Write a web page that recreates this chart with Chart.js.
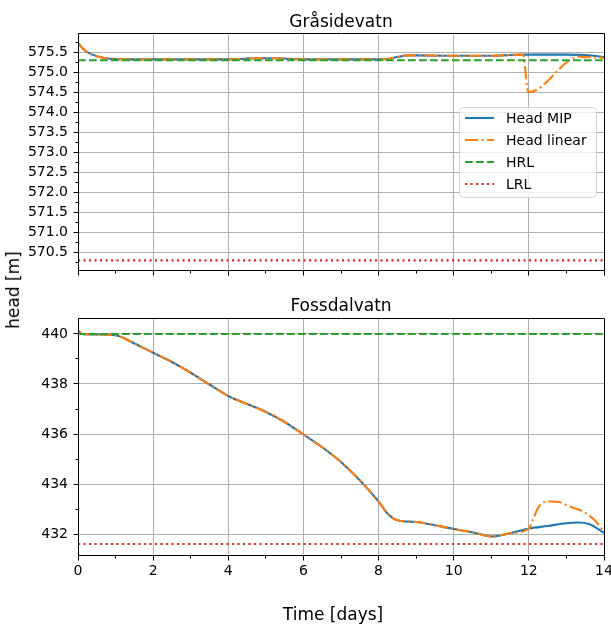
<!DOCTYPE html>
<html>
<head>
<meta charset="utf-8">
<script src="https://cdn.jsdelivr.net/npm/chart.js@4.4.1/dist/chart.umd.min.js"></script>
<style>
html,body{margin:0;padding:0;background:#fff;}
body{width:611px;height:624px;position:relative;overflow:hidden;font-family:'DejaVu Sans',sans-serif;color:#000;}
canvas{position:absolute;left:0;}
.t{position:absolute;white-space:nowrap;font-size:17px;line-height:20px;height:20px;}
</style>
</head>
<body>
<canvas id="c1" width="611" height="290" style="top:0px"></canvas>
<canvas id="c2" width="611" height="334" style="top:290px"></canvas>
<div class="t" id="t1" style="left:341px;top:11px;transform:translateX(-50%);">Gråsidevatn</div>
<div class="t" id="t2" style="left:341px;top:295px;transform:translateX(-50%);">Fossdalvatn</div>
<div class="t" id="xl" style="left:333px;top:604px;transform:translateX(-50%);">Time [days]</div>
<div class="t" id="yl" style="left:13px;top:290px;transform:translate(-50%,-50%) rotate(-90deg);">head [m]</div>
<script>
// ---------------- DATA ----------------
const seriesNames = ['Head MIP', 'Head linear', 'HRL', 'LRL'];

// Gråsidevatn
const topMipDays = [0, 0.1, 0.25, 0.5, 0.75, 1.0, 1.5, 2, 3, 4, 4.5, 4.75, 5.25, 5.75, 6, 7, 8, 8.25, 8.5, 8.75, 9, 10, 11, 11.5, 12, 13, 13.5, 14];
const topMipHead = [575.73, 575.62, 575.5, 575.4, 575.35, 575.33, 575.32, 575.32, 575.32, 575.32, 575.34, 575.35, 575.35, 575.33, 575.32, 575.32, 575.32, 575.33, 575.38, 575.42, 575.42, 575.41, 575.41, 575.43, 575.44, 575.44, 575.43, 575.38];
const topLinDays = [0, 0.1, 0.25, 0.5, 0.75, 1.0, 1.5, 2, 3, 4, 4.5, 4.75, 5.25, 5.75, 6, 7, 8, 8.25, 8.5, 8.75, 9, 10, 11, 11.5, 11.84, 11.99, 13.35, 13.5, 14];
const topLinHead = [575.73, 575.62, 575.5, 575.4, 575.35, 575.33, 575.32, 575.32, 575.32, 575.32, 575.34, 575.35, 575.35, 575.33, 575.32, 575.32, 575.32, 575.33, 575.38, 575.42, 575.42, 575.41, 575.41, 575.43, 575.44, 574.5, 575.39, 575.38, 575.36];
const topHRL = 575.3;
const topLRL = 570.3;

// Fossdalvatn
const botMipDays = [0, 0.1, 0.5, 1.0, 1.5, 2.0, 2.5, 3.0, 3.5, 4.0, 4.5, 5.0, 5.5, 6.0, 6.5, 7.0, 7.5, 8.0, 8.25, 8.5, 9.0, 9.5, 10.0, 10.5, 11.0, 11.5, 12.0, 12.5, 13.0, 13.3, 13.6, 14.0];
const botMipHead = [440.15, 440.0, 439.98, 439.95, 439.62, 439.25, 438.88, 438.45, 437.98, 437.52, 437.2, 436.88, 436.48, 435.98, 435.47, 434.88, 434.15, 433.3, 432.8, 432.55, 432.48, 432.35, 432.2, 432.07, 431.9, 432.03, 432.22, 432.32, 432.43, 432.46, 432.4, 432.05];
const botLinDays = [0, 0.1, 0.5, 1.0, 1.5, 2.0, 2.5, 3.0, 3.5, 4.0, 4.5, 5.0, 5.5, 6.0, 6.5, 7.0, 7.5, 8.0, 8.25, 8.5, 9.0, 9.5, 10.0, 10.5, 11.0, 11.5, 12.0, 12.1, 12.25, 12.4, 12.6, 12.8, 13.0, 13.5, 13.75, 14.0];
const botLinHead = [440.15, 440.0, 439.98, 439.95, 439.62, 439.25, 438.88, 438.45, 437.98, 437.52, 437.2, 436.88, 436.48, 435.98, 435.47, 434.88, 434.15, 433.3, 432.8, 432.55, 432.48, 432.35, 432.2, 432.07, 431.9, 432.03, 432.22, 432.55, 433.05, 433.27, 433.3, 433.28, 433.15, 432.85, 432.55, 432.1];
const botHRL = 440;
const botLRL = 431.6;

// Ticks
const xMajorTicks = [0, 2, 4, 6, 8, 10, 12, 14];
const xMinorTicks = [1, 3, 5, 7, 9, 11, 13];
const topYMajorTicks = [570.5, 571.0, 571.5, 572.0, 572.5, 573.0, 573.5, 574.0, 574.5, 575.0, 575.5];
const topYMinorTicks = [570.25, 570.75, 571.25, 571.75, 572.25, 572.75, 573.25, 573.75, 574.25, 574.75, 575.25, 575.75];
const botYMajorTicks = [432, 434, 436, 438, 440];
const botYMinorTicks = [433, 435, 437, 439];

// ---------------- CHART ----------------
Chart.defaults.font.family = "'DejaVu Sans', sans-serif";
Chart.defaults.font.size = 14;
Chart.defaults.color = '#000';

const zip = (xs, ys) => xs.map((x, i) => ({x: x, y: ys[i]}));
const flat = (v) => [{x: 0, y: v}, {x: 14, y: v}];
const align = (p) => Math.round(p - 0.5) + 0.5;

const decor = {
  id: 'decor',
  afterDatasetsDraw(chart, args, opts) {
    const {ctx, chartArea: a, scales} = chart;
    ctx.save();
    ctx.strokeStyle = '#000';
    ctx.lineWidth = 1;
    const l = align(a.left), r = align(a.right), t = align(a.top), b = align(a.bottom);
    ctx.beginPath();
    ctx.moveTo(l, t); ctx.lineTo(r, t); ctx.lineTo(r, b); ctx.lineTo(l, b); ctx.closePath();
    ctx.stroke();
    ctx.beginPath();
    const xt = (vals, len) => vals.forEach(v => {
      const p = align(scales.x.getPixelForValue(v));
      ctx.moveTo(p, b); ctx.lineTo(p, b + len);
    });
    const yt = (vals, len) => vals.forEach(v => {
      const p = align(scales.y.getPixelForValue(v));
      ctx.moveTo(l, p); ctx.lineTo(l - len, p);
    });
    xt(xMajorTicks, 5); xt(xMinorTicks, 3);
    yt(opts.yMajor, 5); yt(opts.yMinor, 3);
    ctx.stroke();
    ctx.restore();
  },
  afterDraw(chart, args, opts) {
    if (!opts.legend) return;
    const ctx = chart.ctx;
    const bx = 459.5, by = 107.5, bw = 137, bh = 90, rad = 4;
    ctx.save();
    ctx.beginPath();
    ctx.moveTo(bx + rad, by);
    ctx.arcTo(bx + bw, by, bx + bw, by + bh, rad);
    ctx.arcTo(bx + bw, by + bh, bx, by + bh, rad);
    ctx.arcTo(bx, by + bh, bx, by, rad);
    ctx.arcTo(bx, by, bx + bw, by, rad);
    ctx.closePath();
    ctx.fillStyle = 'rgba(255,255,255,0.8)';
    ctx.fill();
    ctx.strokeStyle = 'rgba(204,204,204,0.8)';
    ctx.lineWidth = 1;
    ctx.stroke();
    chart.data.datasets.forEach((ds, i) => {
      const y = 118 + i * 22;
      ctx.beginPath();
      ctx.setLineDash(ds.borderDash || []);
      ctx.strokeStyle = ds.borderColor;
      ctx.lineWidth = ds.borderWidth;
      ctx.moveTo(465, y); ctx.lineTo(494, y);
      ctx.stroke();
      ctx.setLineDash([]);
      ctx.fillStyle = '#000';
      ctx.font = "14px 'DejaVu Sans', sans-serif";
      ctx.textBaseline = 'middle';
      ctx.textAlign = 'left';
      ctx.fillText(ds.label, 506, y + 1);
    });
    ctx.restore();
  }
};

function makeChart(id, c) {
  return new Chart(document.getElementById(id), {
    type: 'line',
    data: {
      datasets: [
        {label: seriesNames[0], data: zip(c.mipDays, c.mipHead), borderColor: '#1f77b4', borderWidth: 2.1, pointRadius: 0, cubicInterpolationMode: 'monotone', order: 4},
        {label: seriesNames[1], data: zip(c.linDays, c.linHead), borderColor: '#ff7f0e', borderWidth: 2.1, borderDash: [13.3, 3.3, 2.1, 3.3], pointRadius: 0, cubicInterpolationMode: 'monotone', order: 3},
        {label: seriesNames[2], data: flat(c.hrl), borderColor: '#2ca02c', borderWidth: 2.1, borderDash: [7.7, 3.3], pointRadius: 0, order: 2},
        {label: seriesNames[3], data: flat(c.lrl), borderColor: '#d62728', borderWidth: 2.1, borderDash: [2.1, 3.4], pointRadius: 0, order: 1}
      ]
    },
    options: {
      responsive: false,
      animation: false,
      devicePixelRatio: 1,
      events: [],
      layout: {padding: {left: 0, right: 7, top: c.padTop, bottom: 0}},
      plugins: {
        legend: {display: false},
        tooltip: {enabled: false},
        title: {display: false},
        decor: {yMajor: c.yMajor, yMinor: c.yMinor, legend: c.legend}
      },
      scales: {
        x: {
          type: 'linear', min: 0, max: 14,
          afterBuildTicks: s => { s.ticks = xMajorTicks.map(v => ({value: v})); },
          afterFit: s => { s.height = c.xH; s.paddingLeft = 0; s.paddingRight = 0; },
          grid: {color: '#b0b0b0', lineWidth: 1, drawTicks: true, tickLength: 5, tickColor: 'rgba(0,0,0,0)'},
          border: {display: false},
          ticks: {display: c.showX, padding: 3, color: '#000', font: {size: 14}, maxRotation: 0, autoSkip: false, callback: v => String(v)}
        },
        y: {
          type: 'linear', min: c.yMin, max: c.yMax,
          afterBuildTicks: s => { s.ticks = c.yMajor.map(v => ({value: v})); },
          afterFit: s => { s.width = 78; s.paddingTop = 0; s.paddingBottom = 0; },
          grid: {color: '#b0b0b0', lineWidth: 1, drawTicks: true, tickLength: 5, tickColor: 'rgba(0,0,0,0)'},
          border: {display: false},
          ticks: {padding: 5, color: '#000', font: {size: 14}, autoSkip: false, callback: v => c.fmt(v)}
        }
      }
    },
    plugins: [decor]
  });
}

makeChart('c1', {
  mipDays: topMipDays, mipHead: topMipHead, linDays: topLinDays, linHead: topLinHead,
  hrl: topHRL, lrl: topLRL, yMin: 570.06, yMax: 575.98,
  yMajor: topYMajorTicks, yMinor: topYMinorTicks, fmt: v => v.toFixed(1),
  padTop: 33, xH: 20, showX: false, legend: true
});
makeChart('c2', {
  mipDays: botMipDays, mipHead: botMipHead, linDays: botLinDays, linHead: botLinHead,
  hrl: botHRL, lrl: botLRL, yMin: 431.16, yMax: 440.64,
  yMajor: botYMajorTicks, yMinor: botYMinorTicks, fmt: v => String(v),
  padTop: 28, xH: 69, showX: true, legend: false
});
</script>
</body>
</html>
